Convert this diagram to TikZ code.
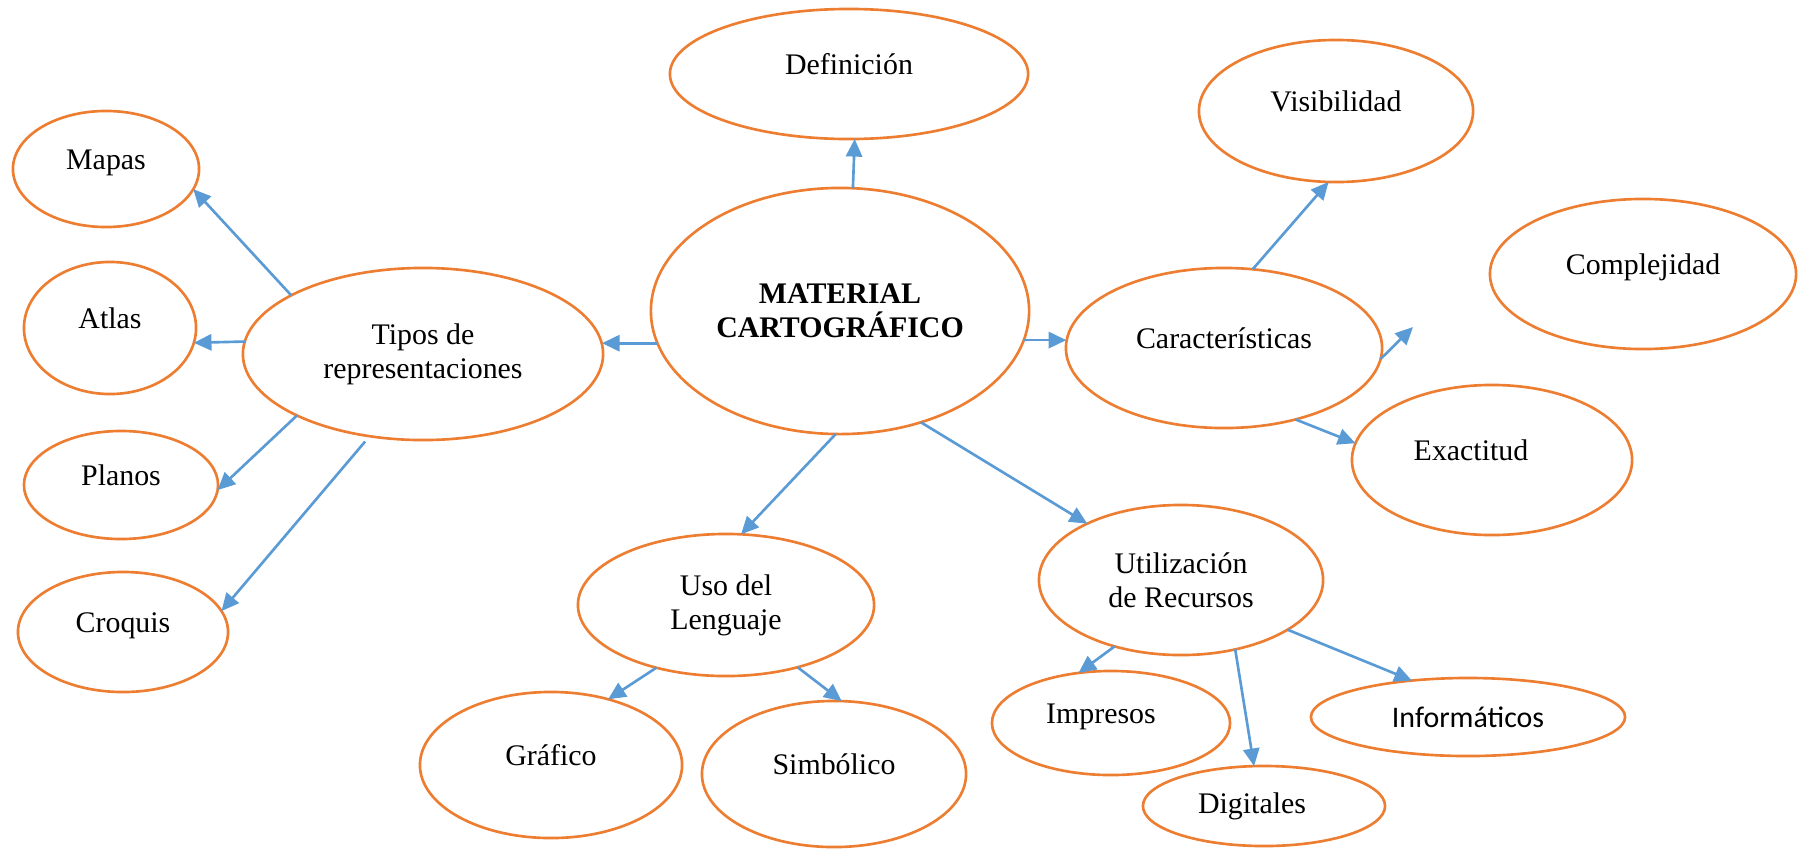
\documentclass[tikz,border=0pt]{standalone}
\usepackage{fontspec}
\setmainfont{Liberation Serif}
\newfontfamily\calibrifont{Carlito}
\usepackage{tikz}
\usetikzlibrary{shapes.geometric, arrows.meta, calc}
\definecolor{ringorange}{HTML}{ED7D31}
\definecolor{linkblue}{HTML}{5B9BD5}
\tikzstyle{concept} = [ellipse, draw=ringorange, line width=0.75pt, inner sep=0pt, outer sep=0pt, align=center, font=\fontsize{8.5}{9.7}\selectfont]
\tikzstyle{lifted} = [text height=6pt, text depth=6pt]
\tikzstyle{arrow} = [line width=0.75pt, draw=linkblue, -{Triangle[length=5pt, width=4.6pt]}]

\begin{document}
\begin{tikzpicture}[x=0.01cm, y=-0.01cm]
\useasboundingbox (0,0) rectangle (1798,848);
% Concepts
\node (mat) [concept, minimum width=3.78cm, minimum height=2.46cm, font=\fontsize{8.5}{9.7}\selectfont\bfseries] at (840,311) {MATERIAL\\CARTOGRÁFICO};
\node (def) [concept, lifted, minimum width=3.58cm, minimum height=1.30cm] at (849,74) {Definición};
\node (tipos) [concept, minimum width=3.60cm, minimum height=1.72cm] at (423,354) {Tipos de\\representaciones};
\node (mapas) [concept, lifted, minimum width=1.86cm, minimum height=1.16cm] at (106,169) {Mapas};
\node (atlas) [concept, lifted, minimum width=1.72cm, minimum height=1.32cm] at (110,328) {Atlas};
\node (planos) [concept, lifted, minimum width=1.94cm, minimum height=1.08cm] at (121,485) {Planos};
\node (croquis) [concept, lifted, minimum width=2.10cm, minimum height=1.20cm] at (123,632) {Croquis};
\node (car) [concept, lifted, minimum width=3.16cm, minimum height=1.60cm] at (1224,348) {Características};
\node (vis) [concept, lifted, minimum width=2.74cm, minimum height=1.42cm] at (1336,111) {Visibilidad};
\node (comp) [concept, lifted, minimum width=3.06cm, minimum height=1.50cm] at (1643,274) {Complejidad};
\node (exac) [concept, lifted, minimum width=2.80cm, minimum height=1.50cm] at (1492,460) {Exactitud\kern0.42cm};
\node (uso) [concept, minimum width=2.96cm, minimum height=1.42cm] at (726,605) {Uso del\\Lenguaje};
\node (graf) [concept, lifted, minimum width=2.62cm, minimum height=1.46cm] at (551,765) {Gráfico};
\node (simb) [concept, lifted, minimum width=2.64cm, minimum height=1.46cm] at (834,774) {Simbólico};
\node (util) [concept, minimum width=2.84cm, minimum height=1.50cm] at (1181,580) {Utilización\\de Recursos};
\node (imp) [concept, lifted, minimum width=2.38cm, minimum height=1.04cm] at (1111,723) {Impresos\kern0.2cm};
\node (dig) [concept, minimum width=2.42cm, minimum height=0.80cm] at (1264,806) {Digitales\kern0.24cm};
\node (info) [concept, minimum width=3.14cm, minimum height=0.78cm] at (1468,717) {\calibrifont Informáticos};
\coordinate (compfree) at (1413,327);

% Links
\draw [arrow] (mat.84) -- (def.275);
\draw [arrow] (mat.190) -- (mat.190 -| tipos.3);
\draw [arrow] (tipos.156) -- (mapas.347);
\draw [arrow] (tipos.176) -- (atlas.350);
\draw [arrow] (tipos.206) -- (planos.357);
\draw [arrow, shorten <=0.07cm] (tipos.237) -- (croquis.12);
\draw [arrow] (mat.268) -- (uso.78);
\draw [arrow] (mat.351) -- (mat.351 -| car.178);
\draw [arrow] (car.70) -- (vis.264);
\draw [arrow] (car.356) -- (compfree);
\draw [arrow] (car.315) -- (exac.173);
\draw [arrow] (mat.306) -- (util.149);
\draw [arrow] (util.225) -- (imp.123);
\draw [arrow] (util.308) -- (dig.104);
\draw [arrow] (util.335) -- (info.147);
\draw [arrow] (uso.222) -- (graf.49);
\draw [arrow] (uso.319) -- (simb.84);
\end{tikzpicture}
\end{document}
